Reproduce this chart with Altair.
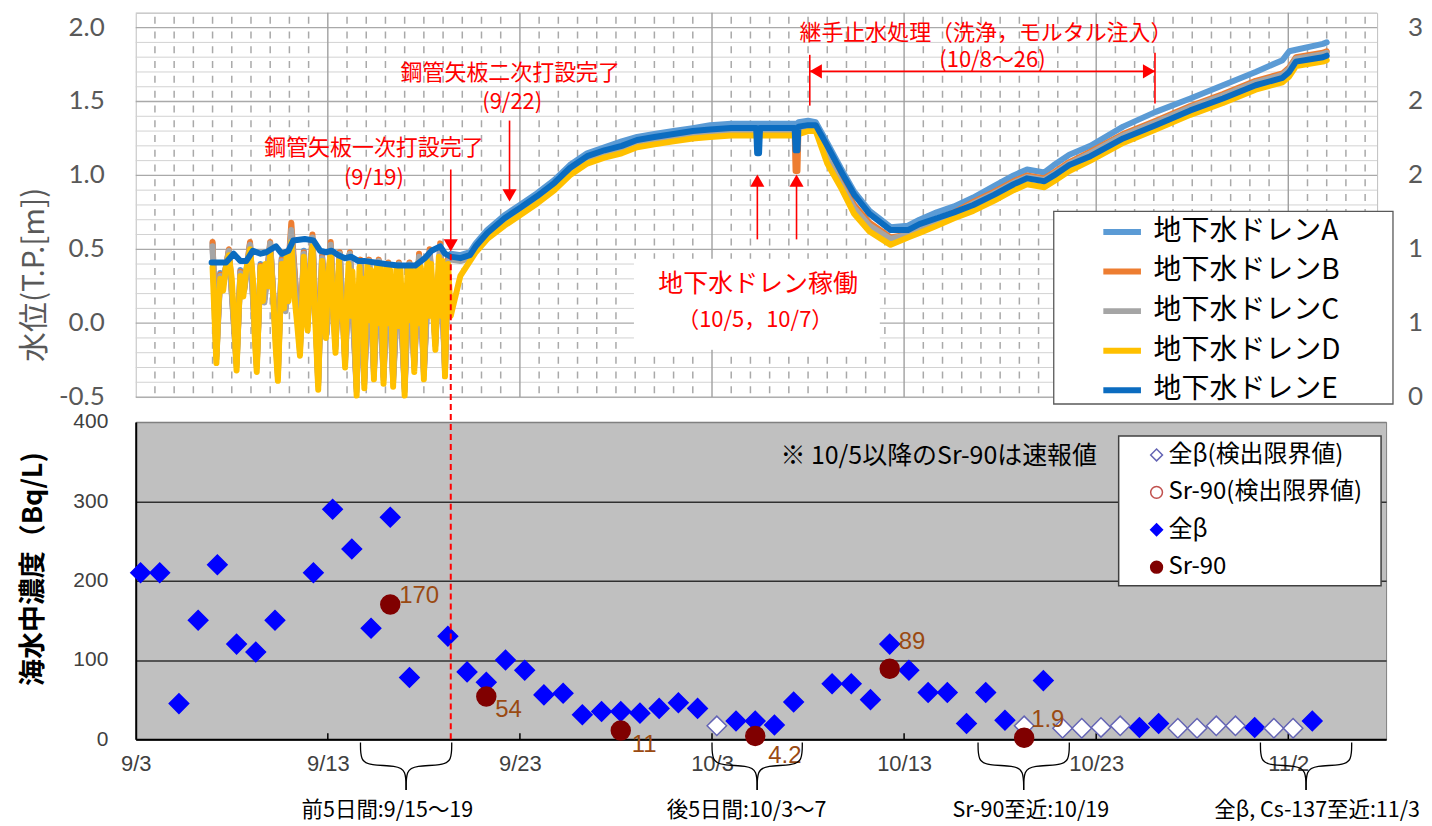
import altair as alt
import pandas as pd

BASE = pd.Timestamp("2015-09-03")


def day_of(md):
    return (pd.Timestamp("2015-" + md) - BASE).days


# ================= TOP PANEL DATA (water level, T.P. m) =================
# x values are days since 9/3 00:00
SERIES = ["地下水ドレンA", "地下水ドレンB", "地下水ドレンC", "地下水ドレンD", "地下水ドレンE"]
SERIES_COLORS = ["#5b9bd5", "#ed7d31", "#a5a5a5", "#ffc000", "#0b6cc0"]

# tidal period (9/7 - 9/19), drains A-C
osc_day = [4.0, 4.2, 4.4, 4.55, 4.85, 5.25, 5.45, 5.65, 5.95, 6.3,
           6.5, 6.7, 7.0, 7.4, 7.6, 7.8, 8.1, 8.55, 8.75, 8.95,
           9.2, 9.5, 9.7, 9.95, 10.15, 10.4, 10.62, 10.9, 11.15, 11.5,
           11.7, 11.9, 12.15, 12.4, 12.65, 12.9, 13.15, 13.4, 13.7, 14.0,
           14.25, 14.5, 14.75, 15.0, 15.3, 15.6, 15.85, 16.1, 16.25]
osc_A = [0.54, -0.20, 0.34, 0.28, 0.49, -0.25, 0.36, 0.24, 0.54, -0.26,
         0.40, 0.17, 0.53, -0.32, 0.44, 0.11, 0.62, -0.15, 0.49, 0.01,
         0.57, -0.38, 0.46, -0.04, 0.52, -0.13, 0.47, -0.23, 0.47, -0.42,
         0.42, -0.37, 0.42, -0.31, 0.42, -0.34, 0.40, -0.36, 0.40, -0.42,
         0.40, -0.26, 0.45, -0.31, 0.48, -0.11, 0.52, -0.29, 0.44]
osc_B = [0.55, -0.22, 0.33, 0.27, 0.50, -0.27, 0.35, 0.23, 0.55, -0.28,
         0.39, 0.16, 0.55, -0.34, 0.43, 0.10, 0.68, -0.17, 0.48, 0.00,
         0.60, -0.40, 0.45, -0.05, 0.55, -0.15, 0.48, -0.25, 0.48, -0.44,
         0.43, -0.39, 0.43, -0.33, 0.43, -0.36, 0.41, -0.38, 0.41, -0.44,
         0.41, -0.28, 0.47, -0.33, 0.50, -0.13, 0.54, -0.31, 0.43]
osc_C = [0.52, -0.24, 0.32, 0.26, 0.49, -0.29, 0.34, 0.22, 0.53, -0.30,
         0.38, 0.14, 0.54, -0.36, 0.42, 0.08, 0.63, -0.19, 0.47, -0.02,
         0.58, -0.42, 0.44, -0.07, 0.53, -0.17, 0.47, -0.27, 0.47, -0.46,
         0.42, -0.41, 0.42, -0.35, 0.42, -0.38, 0.40, -0.40, 0.40, -0.46,
         0.40, -0.30, 0.45, -0.35, 0.48, -0.15, 0.52, -0.33, 0.42]
# tidal period, drain D (day, level)
osc_D_pts = [
    (4.00, 0.38), (4.10, 0.05), (4.20, -0.27), (4.30, 0.10), (4.40, 0.30), (4.55, 0.22),
    (4.70, 0.38), (4.85, 0.46), (5.00, 0.30), (5.15, -0.05), (5.25, -0.32), (5.35, 0.05),
    (5.45, 0.32), (5.60, 0.18), (5.75, 0.36), (5.95, 0.50), (6.10, 0.30), (6.20, -0.10),
    (6.30, -0.33), (6.40, 0.05), (6.50, 0.38), (6.62, 0.15), (6.75, 0.40), (6.90, 0.25),
    (7.00, 0.48), (7.15, 0.20), (7.28, -0.15), (7.40, -0.39), (7.50, 0.00), (7.60, 0.40),
    (7.72, 0.10), (7.85, 0.45), (7.95, 0.15), (8.10, 0.55), (8.25, 0.20), (8.40, 0.00),
    (8.55, -0.22), (8.65, 0.10), (8.75, 0.45), (8.85, 0.05), (8.95, -0.05), (9.05, 0.30),
    (9.20, 0.52), (9.32, 0.10), (9.42, -0.20), (9.50, -0.45), (9.60, 0.05), (9.70, 0.42),
    (9.80, 0.15), (9.90, -0.10), (10.00, 0.30), (10.15, 0.48), (10.25, 0.15), (10.33, -0.05),
    (10.40, -0.20), (10.48, 0.15), (10.58, 0.42), (10.70, 0.10), (10.80, 0.00), (10.90, -0.30),
    (10.98, 0.12), (11.08, 0.40), (11.18, 0.05), (11.28, 0.35), (11.38, 0.05), (11.50, -0.49),
    (11.58, 0.10), (11.65, 0.38), (11.75, 0.05), (11.82, 0.30), (11.90, -0.44), (11.98, 0.12),
    (12.06, 0.40), (12.15, 0.02), (12.24, 0.36), (12.32, 0.08), (12.40, -0.38), (12.48, 0.15),
    (12.56, 0.40), (12.65, 0.00), (12.74, 0.38), (12.82, 0.05), (12.90, -0.41), (12.98, 0.10),
    (13.06, 0.38), (13.15, 0.00), (13.24, 0.36), (13.32, 0.05), (13.40, -0.43), (13.48, 0.12),
    (13.58, 0.38), (13.68, -0.02), (13.78, 0.36), (13.88, 0.05), (14.00, -0.49), (14.08, 0.10),
    (14.16, 0.38), (14.25, 0.02), (14.34, 0.36), (14.42, 0.08), (14.50, -0.33), (14.58, 0.12),
    (14.66, 0.40), (14.75, 0.00), (14.84, 0.38), (14.92, 0.05), (15.00, -0.38), (15.08, 0.12),
    (15.18, 0.42), (15.28, 0.05), (15.38, 0.40), (15.48, 0.10), (15.60, -0.18), (15.68, 0.15),
    (15.78, 0.45), (15.88, 0.05), (15.97, 0.42), (16.03, 0.05), (16.10, -0.36), (16.18, 0.10),
    (16.26, 0.40)]
# drain E before 9/19
e_early_day = [3.95, 4.7, 5.1, 5.45, 5.75, 6.1, 6.5, 6.8, 7.3, 7.6,
               7.95, 8.2, 8.8, 9.25, 9.6, 9.9, 10.2, 10.55, 10.9, 11.2,
               11.6, 11.95, 12.45, 13.0, 13.65, 14.55, 15.05, 15.4, 15.85, 16.1]
e_early = [0.41, 0.41, 0.47, 0.42, 0.42, 0.49, 0.47, 0.48, 0.52, 0.47,
           0.49, 0.56, 0.57, 0.56, 0.49, 0.48, 0.49, 0.46, 0.44, 0.45,
           0.42, 0.42, 0.41, 0.40, 0.39, 0.39, 0.44, 0.49, 0.52, 0.47]

# after 9/19
smooth_day = [16.4, 16.9, 17.4, 17.7, 18.3, 19.2, 20.0, 20.9, 21.8, 22.6,
              23.5, 24.4, 25.3, 26.1, 27.0, 28.0, 29.0, 29.9, 31.0, 32.0,
              32.3, 32.35, 32.45, 32.5, 33.3, 34.3, 34.35, 34.45, 34.5, 35.0,
              35.4, 36.0, 36.7, 37.4, 38.2, 39.3, 40.2, 40.8, 41.7, 42.6,
              43.6, 44.7, 45.7, 46.4, 47.3, 47.8, 48.6, 49.7, 51.4, 53.1,
              54.9, 56.6, 58.3, 59.7, 60.05, 60.4, 61.8, 62.0]
smooth_A = [0.47, 0.46, 0.48, 0.54, 0.63, 0.73, 0.80, 0.88, 0.97, 1.07,
            1.15, 1.19, 1.23, 1.26, 1.28, 1.30, 1.32, 1.34, 1.35, 1.35,
            1.35, 1.35, 1.35, 1.35, 1.35, 1.35, 1.35, 1.35, 1.36, 1.37,
            1.36, 1.22, 1.05, 0.89, 0.76, 0.65, 0.66, 0.70, 0.75, 0.79,
            0.85, 0.93, 1.00, 1.04, 1.02, 1.07, 1.14, 1.20, 1.33, 1.43,
            1.52, 1.61, 1.70, 1.78, 1.84, 1.85, 1.89, 1.90]
smooth_B = [0.44, 0.43, 0.45, 0.51, 0.60, 0.70, 0.77, 0.85, 0.94, 1.03,
            1.11, 1.15, 1.18, 1.22, 1.24, 1.26, 1.28, 1.29, 1.30, 1.30,
            1.30, 1.30, 1.30, 1.30, 1.30, 1.30, 1.03, 1.03, 1.31, 1.33,
            1.32, 1.14, 0.96, 0.80, 0.68, 0.58, 0.60, 0.65, 0.70, 0.75,
            0.82, 0.89, 0.96, 1.00, 0.98, 1.02, 1.09, 1.16, 1.28, 1.37,
            1.47, 1.55, 1.64, 1.69, 1.73, 1.80, 1.83, 1.84]
smooth_C = [0.43, 0.42, 0.44, 0.50, 0.59, 0.69, 0.76, 0.84, 0.93, 1.02,
            1.10, 1.14, 1.17, 1.21, 1.23, 1.25, 1.27, 1.28, 1.29, 1.29,
            1.29, 1.29, 1.29, 1.29, 1.29, 1.29, 1.29, 1.29, 1.30, 1.32,
            1.31, 1.12, 0.94, 0.78, 0.66, 0.57, 0.60, 0.64, 0.69, 0.74,
            0.81, 0.88, 0.95, 0.99, 0.97, 1.01, 1.08, 1.15, 1.27, 1.36,
            1.46, 1.54, 1.63, 1.68, 1.72, 1.79, 1.82, 1.83]
smooth_D = [0.05, 0.32, 0.42, 0.48, 0.57, 0.66, 0.73, 0.81, 0.90, 1.00,
            1.08, 1.12, 1.15, 1.19, 1.21, 1.23, 1.25, 1.26, 1.27, 1.27,
            1.27, 1.27, 1.27, 1.27, 1.27, 1.27, 1.27, 1.27, 1.28, 1.30,
            1.30, 1.08, 0.92, 0.74, 0.62, 0.53, 0.58, 0.61, 0.66, 0.71,
            0.76, 0.83, 0.90, 0.94, 0.92, 0.96, 1.03, 1.10, 1.22, 1.31,
            1.41, 1.49, 1.58, 1.63, 1.67, 1.74, 1.77, 1.78]
smooth_E = [0.45, 0.44, 0.46, 0.52, 0.61, 0.71, 0.78, 0.86, 0.95, 1.05,
            1.13, 1.17, 1.20, 1.24, 1.26, 1.28, 1.30, 1.31, 1.32, 1.32,
            1.32, 1.15, 1.15, 1.32, 1.32, 1.32, 1.17, 1.17, 1.33, 1.34,
            1.34, 1.20, 1.03, 0.87, 0.74, 0.63, 0.63, 0.67, 0.71, 0.75,
            0.80, 0.87, 0.94, 0.98, 0.96, 1.00, 1.07, 1.13, 1.25, 1.34,
            1.44, 1.52, 1.61, 1.66, 1.70, 1.77, 1.80, 1.81]

top_y_values = [-0.5, 0.0, 0.5, 1.0, 1.5, 2.0]
top_y_labels = ["-0.5", "0.0", "0.5", "1.0", "1.5", "2.0"]
right_labels = ["0", "1", "1", "2", "2", "3"]

# ================= BOTTOM PANEL DATA (seawater, Bq/L) =================
CATS = ["全β(検出限界値)", "Sr-90(検出限界値)", "全β", "Sr-90"]
beta_dates = ["09-03", "09-04", "09-05", "09-06", "09-07", "09-08", "09-09", "09-10",
              "09-12", "09-13", "09-14", "09-15", "09-16", "09-17", "09-19", "09-20",
              "09-21", "09-22", "09-23", "09-24", "09-25", "09-26", "09-27", "09-28",
              "09-29", "09-30", "10-01", "10-02", "10-04", "10-05", "10-06", "10-07",
              "10-09", "10-10", "10-11", "10-12", "10-13", "10-14", "10-15", "10-16",
              "10-17", "10-18", "10-20", "10-25", "10-26", "10-31", "11-03"]
beta_vals = [210, 210, 45, 150, 220, 120, 110, 150,
             210, 290, 240, 140, 280, 78, 130, 85,
             72, 100, 87, 56, 58, 31, 35, 35,
             33, 39, 46, 39, 23, 23, 18, 47,
             70, 70, 50, 120, 87, 59, 59, 20,
             59, 24, 74, 15, 20, 15, 23]
beta_dl_dates = ["10-03", "10-19", "10-21", "10-22", "10-23", "10-24",
                 "10-27", "10-28", "10-29", "10-30", "11-01", "11-02"]
beta_dl_vals = [17, 17, 14, 14, 15, 17, 14, 14, 17, 17, 14, 14]
sr_dates = ["09-16", "09-21", "09-28", "10-05", "10-12", "10-19"]
sr_vals = [170, 54, 11, 4.2, 89, 1.9]
SAMPLE_OFFSET = 0.25  # samples taken in the morning

x_label_days = [0, 10, 20, 30, 40, 50, 60]
y_bottom_labels = [0, 100, 200, 300, 400]

brace_spans = [(11.7, 16.45), (30.0, 34.7), (43.85, 48.6), (58.55, 63.3)]
brace_texts = ["前5日間:9/15～19", "後5日間:10/3～7", "Sr-90至近:10/19", "全β, Cs-137至近:11/3"]
brace_text_x = [13.1, 31.8, 46.6, 61.5]

# ================= LAYOUT / STYLE =================
PX_PER_DAY = 19.25
TOP_W, TOP_H = 1244, 385
BOT_W, BOT_H = 1253, 318
RED = "#ff0000"
JP = "Noto Sans CJK JP"

# ---------- build top data ----------
rows = []
for name, osc, sm in zip(SERIES[:3], [osc_A, osc_B, osc_C], [smooth_A, smooth_B, smooth_C]):
    for d, v in zip(osc_day + smooth_day, osc + sm):
        rows.append({"series": name, "d": d, "v": v})
for d, v in osc_D_pts + list(zip(smooth_day, smooth_D)):
    rows.append({"series": SERIES[3], "d": d, "v": v})
for d, v in zip(e_early_day + smooth_day, e_early + smooth_E):
    rows.append({"series": SERIES[4], "d": d, "v": v})
lines_df = pd.DataFrame(rows)

xs_top = alt.Scale(domain=[0, TOP_W / PX_PER_DAY], nice=False, zero=False)
ys_top = alt.Scale(domain=[-0.5, 2.1], nice=False, zero=False)
y_axis_top = alt.Axis(values=top_y_values, labels=False, grid=False, ticks=False, domain=False,
                      titleFont=JP, titleFontSize=30, titleFontWeight="normal",
                      titleColor="#595959", titleX=-101, titleY=262, titleBaseline="middle")


def XT(f):
    return alt.X(f"{f}:Q", scale=xs_top, axis=None)


def YT(f):
    return alt.Y(f"{f}:Q", scale=ys_top, axis=y_axis_top, title="水位(T.P.[m])")


def is_half(v):
    return abs(v * 2 - round(v * 2)) < 1e-6


hminor = pd.DataFrame({"y": [round(-0.4 + 0.1 * i, 1) for i in range(26)
                             if not is_half(round(-0.4 + 0.1 * i, 1))]})
hmajor = pd.DataFrame({"y": top_y_values})
vminor = pd.DataFrame({"d": [i for i in range(1, 65) if i % 10 != 0]})
vmajor = pd.DataFrame({"d": [10, 20, 30, 40, 50, 60]})

g1 = alt.Chart(hminor).mark_rule(color="#d2d2d2", strokeWidth=1).encode(
    y=YT("y"), x=alt.value(0), x2=alt.value(TOP_W))
g2 = alt.Chart(hmajor).mark_rule(color="#a9a9a9", strokeWidth=1.3).encode(
    y=YT("y"), x=alt.value(0), x2=alt.value(TOP_W))
g3 = alt.Chart(vminor).mark_rule(color="#a9a9a9", strokeWidth=1.5, strokeDash=[7, 7.81],
                                 strokeDashOffset=10.9).encode(
    x=XT("d"), y=alt.value(0), y2=alt.value(TOP_H))
g4 = alt.Chart(vmajor).mark_rule(color="#a0a0a0", strokeWidth=1.4).encode(
    x=XT("d"), y=alt.value(0), y2=alt.value(TOP_H))

# white panels: annotation box and legend frame
box_df = pd.DataFrame({"x1": [25.97, 47.79], "x2": [38.7, 65.45], "y1": [0.432, 0.756],
                       "y2": [-0.176, -0.547], "sc": ["white", "#595959"]})
wbox = alt.Chart(box_df).mark_rect(fill="white", strokeWidth=1.3).encode(
    x=XT("x1"), x2=alt.X2("x2:Q"), y=YT("y1"), y2=alt.Y2("y2:Q"),
    stroke=alt.Stroke("sc:N", scale=None, legend=None))

leg_top = alt.Legend(title=None, orient="none", legendX=920, legendY=192, padding=10,
                     symbolType="M-1.3,0H1.3", symbolSize=841, symbolStrokeWidth=6,
                     symbolOffset=41, labelOffset=14, labelFontSize=28, labelFont=JP,
                     labelColor="black", rowPadding=7.7, labelLimit=500)
lines = alt.Chart(lines_df).mark_line(strokeWidth=6, strokeCap="round", strokeJoin="round").encode(
    x=XT("d"), y=YT("v"),
    color=alt.Color("series:N", scale=alt.Scale(domain=SERIES, range=SERIES_COLORS), legend=leg_top))

shafts = pd.DataFrame({
    "x": [16.40, 19.46, 32.36, 34.40, 35.09, 53.06, 35.09],
    "x2": [16.40, 19.46, 32.36, 34.40, 35.09, 53.06, 53.06],
    "y": [1.040, 1.371, 0.567, 0.567, 1.816, 1.83, 1.704],
    "y2": [0.53, 0.87, 0.97, 0.97, 1.472, 1.486, 1.704]})
shaft_l = alt.Chart(shafts).mark_rule(color=RED, strokeWidth=1.6).encode(
    x=XT("x"), x2=alt.X2("x2:Q"), y=YT("y"), y2=alt.Y2("y2:Q"))
heads = pd.DataFrame({
    "x": [16.40, 19.46, 32.36, 34.40, 35.40, 52.75],
    "y": [0.527, 0.865, 0.965, 0.965, 1.704, 1.704],
    "shape": ["triangle-down", "triangle-down", "triangle-up", "triangle-up",
              "triangle-left", "triangle-right"]})
head_l = alt.Chart(heads).mark_point(filled=True, color=RED, size=200, opacity=1).encode(
    x=XT("x"), y=YT("y"), shape=alt.Shape("shape:N", scale=None, legend=None))

ann = pd.DataFrame({
    "t": ["鋼管矢板一次打設完了", "(9/19)", "鋼管矢板二次打設完了", "(9/22)",
          "地下水ドレン稼働", "（10/5，10/7）", "継手止水処理（洗浄，モルタル注入）", "(10/8～26)"],
    "x": [12.4, 12.4, 19.5, 19.6, 32.4, 32.25, 44.26, 44.6],
    "y": [1.185, 0.982, 1.69, 1.495, 0.263, 0.02, 1.965, 1.78],
    "fs": [22, 22, 22, 22, 25, 22, 22, 22]})
ann_l = alt.Chart(ann).mark_text(color=RED, font=JP, baseline="middle").encode(
    x=XT("x"), y=YT("y"), text="t:N", size=alt.Size("fs:Q", scale=None, legend=None))

ylab = pd.DataFrame({"v": top_y_values, "t": top_y_labels, "r": right_labels})
ylab_l = alt.Chart(ylab).mark_text(align="right", baseline="middle", font="Lato", fontSize=26,
                                    color="#595959").encode(
    x=alt.value(-31), y=YT("v"), text="t:N")
rlab_l = alt.Chart(ylab).mark_text(align="left", baseline="middle", font="Lato", fontSize=26,
                                    color="#595959").encode(
    x=alt.value(1275), y=YT("v"), text="r:N")

top = alt.layer(g1, g2, g3, g4, wbox, lines, shaft_l, head_l, ann_l, ylab_l, rlab_l).properties(
    width=TOP_W, height=TOP_H, view=alt.ViewBackground(fill="white", stroke="#bfbfbf"))

# ---------- bottom chart ----------
xs_bot = alt.Scale(domain=[0, BOT_W / PX_PER_DAY], nice=False, zero=False)
ys_bot = alt.Scale(domain=[0, 400], nice=False, zero=False)
x_axis_bot = alt.Axis(values=x_label_days,
                      labelExpr="timeFormat(datetime(2015, 8, 3 + datum.value), '%-m/%-d')",
                      ticks=False, grid=False, domainColor="black", domainWidth=2,
                      labelFont="Liberation Sans", labelFontSize=22, labelColor="#404040",
                      labelPadding=14, labelOverlap=False, labelFlush=False)
y_axis_bot = alt.Axis(values=y_bottom_labels, ticks=False, grid=True,
                      gridColor={"condition": {"test": "datum.value >= 400", "value": "#808080"},
                                 "value": "#303030"},
                      gridWidth=1.5, domainColor="black", domainWidth=2,
                      labelFont="Liberation Sans", labelFontSize=21, labelColor="#404040",
                      labelPadding=28, titleFont=JP, titleFontSize=27, titleFontWeight="bold",
                      titleColor="black", titleX=-102, titleY=147, titleBaseline="middle")


def XB(f):
    return alt.X(f"{f}:Q", scale=xs_bot, axis=x_axis_bot, title=None)


def YB(f):
    return alt.Y(f"{f}:Q", scale=ys_bot, axis=y_axis_bot, title="海水中濃度（Bq/L)")


pts = []
for md, v in zip(beta_dates, beta_vals):
    pts.append({"d": day_of(md) + SAMPLE_OFFSET, "c": v, "cat": "全β"})
for md, v in zip(beta_dl_dates, beta_dl_vals):
    pts.append({"d": day_of(md) + SAMPLE_OFFSET, "c": v, "cat": "全β(検出限界値)"})
dia_df = pd.DataFrame(pts)
sr_df = pd.DataFrame({"d": [day_of(m) + SAMPLE_OFFSET for m in sr_dates], "c": sr_vals,
                      "cat": ["Sr-90"] * len(sr_vals),
                      "lab": [f"{v:g}" for v in sr_vals]})

leg_bot = alt.Legend(title=None, orient="none", legendX=985, legendY=13, padding=8,
                     symbolSize=140, symbolStrokeWidth=1.5, symbolOffset=18, labelOffset=0,
                     labelFontSize=24, labelFont=JP, labelColor="black", rowPadding=13.5,
                     labelLimit=500)
shape_enc = alt.Shape("cat:N", scale=alt.Scale(domain=CATS, range=["diamond", "circle", "diamond", "circle"]),
                      legend=leg_bot)
fill_enc = alt.Fill("cat:N", scale=alt.Scale(domain=CATS, range=["white", "white", "#0000ff", "#800000"]),
                    legend=leg_bot)
stroke_enc = alt.Stroke("cat:N", scale=alt.Scale(domain=CATS, range=["#6464b4", "#c0504d", "#0000ff", "#800000"]),
                        legend=leg_bot)

ticks_df = pd.DataFrame({"d": [10, 20, 30, 40, 50, 60]})
ticks_l = alt.Chart(ticks_df).mark_rule(color="black", strokeWidth=1.5).encode(
    x=XB("d"), y=alt.value(BOT_H), y2=alt.value(BOT_H - 6))

# legend frame
lframe_df = pd.DataFrame({"x1": [51.17], "x2": [64.83], "y1": [382.4], "y2": [193.7]})
lframe_l = alt.Chart(lframe_df).mark_rect(fill="white", stroke="#404040", strokeWidth=1.5).encode(
    x=XB("x1"), x2=alt.X2("x2:Q"), y=YB("y1"), y2=alt.Y2("y2:Q"))

dia_l = alt.Chart(dia_df).mark_point(filled=True, size=380, strokeWidth=1.5, opacity=1).encode(
    x=XB("d"), y=YB("c"), shape=shape_enc, fill=fill_enc, stroke=stroke_enc)
sr_l = alt.Chart(sr_df).mark_point(filled=True, size=360, strokeWidth=1.5, opacity=1).encode(
    x=XB("d"), y=YB("c"), shape=shape_enc, fill=fill_enc, stroke=stroke_enc)

LABEL_OFFSETS = {"170": (9, -8), "54": (9, 14), "11": (11, 14), "4.2": (13, 20),
                 "89": (9, -27), "1.9": (7, -18)}
lab_layers = []
for lab, (dx, dy) in LABEL_OFFSETS.items():
    lab_layers.append(
        alt.Chart(sr_df).transform_filter(alt.datum.lab == lab).mark_text(
            align="left", baseline="middle", dx=dx, dy=dy, font="Liberation Sans",
            fontSize=24, color="#9a4a12").encode(x=XB("d"), y=YB("c"), text="lab:N"))

note_df = pd.DataFrame({"d": [33.56], "c": [357], "t": ["※ 10/5以降のSr-90は速報値"]})
note_l = alt.Chart(note_df).mark_text(align="left", baseline="middle", font=JP, fontSize=25,
                                      color="black").encode(x=XB("d"), y=YB("c"), text="t:N")

dash_df = pd.DataFrame({"d": [16.40], "c": [0], "c2": [615]})
dash_l = alt.Chart(dash_df).mark_rule(color=RED, strokeWidth=2, strokeDash=[6, 4]).encode(
    x=XB("d"), y=YB("c"), y2=alt.Y2("c2:Q"))

brace_rows = []
for i, (s, e) in enumerate(brace_spans):
    c = (s + e) / 2
    left = [(s, -4), (s, -27), (s + 0.5, -33), (c - 0.5, -33), (c, -39), (c, -64)]
    right = [(e, -4), (e, -27), (e - 0.5, -33), (c + 0.5, -33), (c, -39), (c, -64)]
    for side, pl in (("L", left), ("R", right)):
        for k, (xx, yy) in enumerate(pl):
            brace_rows.append({"grp": f"{i}{side}", "d": xx, "c": yy, "k": k})
brace_df = pd.DataFrame(brace_rows)
brace_l = alt.Chart(brace_df).mark_line(interpolate="basis", color="black", strokeWidth=1.3).encode(
    x=XB("d"), y=YB("c"), detail="grp:N", order="k:Q")

btxt_df = pd.DataFrame({"d": brace_text_x, "c": [-91] * 4, "t": brace_texts})
btxt_l = alt.Chart(btxt_df).mark_text(baseline="middle", font=JP, fontSize=21.5, color="black").encode(
    x=XB("d"), y=YB("c"), text="t:N")

bottom = alt.layer(ticks_l, lframe_l, dia_l, sr_l, *lab_layers, note_l, dash_l, brace_l, btxt_l).properties(
    width=BOT_W, height=BOT_H, view=alt.ViewBackground(fill="#c0c0c0", stroke="#808080"))

IND = "independent"
chart = alt.vconcat(top, bottom, spacing=25, bounds="flush").resolve_scale(
    color=IND, shape=IND, fill=IND, stroke=IND, size=IND
).resolve_legend(
    color=IND, shape=IND, fill=IND, stroke=IND, size=IND
).properties(
    padding={"left": 11, "top": 2, "right": 0, "bottom": 0}
).configure(font=JP)

chart.save("out.html", embed_options={"renderer": "svg", "actions": False})
